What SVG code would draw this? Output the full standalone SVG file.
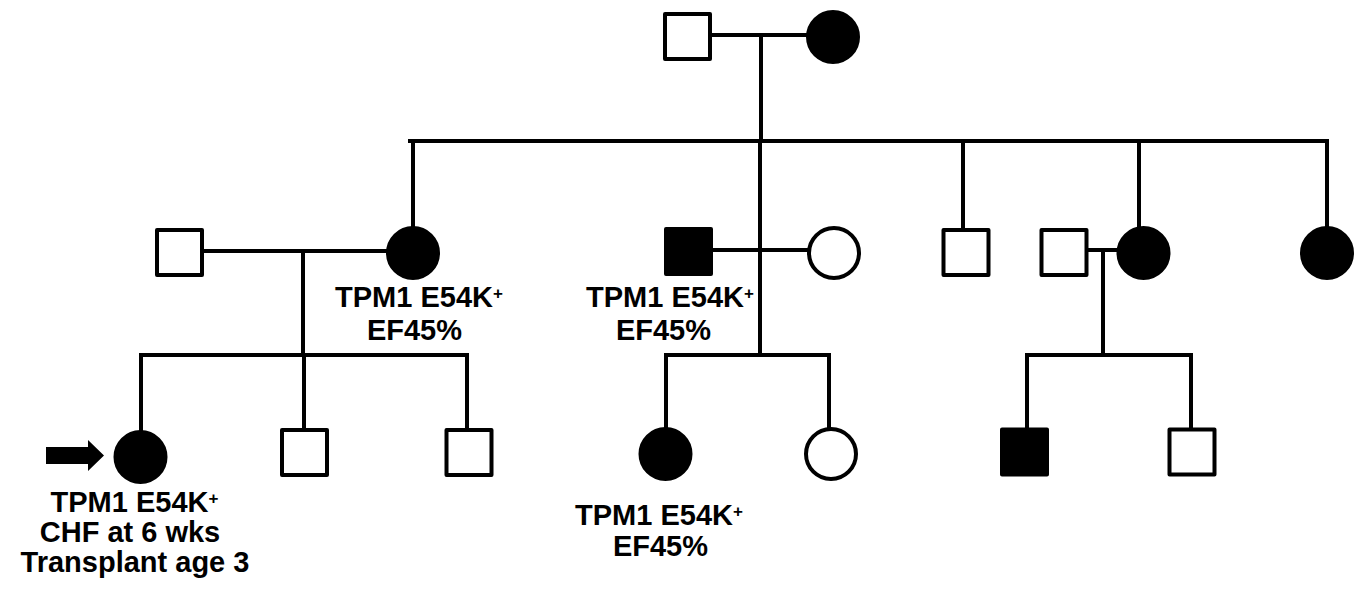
<svg xmlns="http://www.w3.org/2000/svg" width="1360" height="591" viewBox="0 0 1360 591">
<style>
.ln{stroke:#000;stroke-width:4;fill:none;stroke-linecap:square}
.open{fill:#fff;stroke:#000;stroke-width:4;stroke-linejoin:round}
.aff{fill:#000;stroke:#000;stroke-width:4;stroke-linejoin:round}
.lbl{font-family:"Liberation Sans",Arial,sans-serif;font-weight:bold;font-size:29px;fill:#000;text-anchor:middle}
.sup{font-size:17px}
</style>
<rect width="1360" height="591" fill="#fff"/>
<g id="connectors">
<path class="ln" d="M712,35H807M761,35V141M410,141H1327"/>
<path class="ln" d="M413,141V226M760,141V353M963,141V227M1139,141V227M1327,141V227"/>
<path class="ln" d="M204,251H386M303,251V355M714,250H808M1088,250H1117M1103,250V353"/>
<path class="ln" d="M141,355H467M141,355V430M304,355V428M467,355V428"/>
<path class="ln" d="M666,355H829M666,355V428M829,355V428"/>
<path class="ln" d="M1027,355H1191M1027,355V428M1191,355V428"/>
</g>
<g id="gen1-father"><rect class="open" x="665" y="14" width="45" height="45"/></g>
<g id="gen1-mother"><circle class="aff" cx="833" cy="37" r="25"/></g>
<g id="gen2-spouse1"><rect class="open" x="157" y="230" width="45" height="45"/></g>
<g id="gen2-daughter1"><circle class="aff" cx="413" cy="253" r="25"/>
<text class="lbl" x="419" y="307">TPM1 E54K<tspan class="sup" dy="-8">+</tspan></text>
<text class="lbl" x="414.5" y="340">EF45%</text></g>
<g id="gen2-son1"><rect class="aff" x="666" y="229" width="45" height="45"/>
<text class="lbl" x="670" y="307">TPM1 E54K<tspan class="sup" dy="-8">+</tspan></text>
<text class="lbl" x="663.5" y="340">EF45%</text></g>
<g id="gen2-spouse2"><circle class="open" cx="834" cy="253" r="25"/></g>
<g id="gen2-son2"><rect class="open" x="943.5" y="230" width="45" height="45"/></g>
<g id="gen2-spouse3"><rect class="open" x="1041.5" y="230" width="45" height="45"/></g>
<g id="gen2-daughter2"><circle class="aff" cx="1143.5" cy="253" r="25"/></g>
<g id="gen2-daughter3"><circle class="aff" cx="1327" cy="253" r="25"/></g>
<g id="proband"><circle class="aff" cx="140.5" cy="457" r="25"/>
<polygon points="46,447 88,447 88,440 104,455.5 88,471 88,464 46,464" fill="#000"/>
<text class="lbl" x="134.5" y="512">TPM1 E54K<tspan class="sup" dy="-8">+</tspan></text>
<text class="lbl" x="130" y="542">CHF at 6 wks</text>
<text class="lbl" x="135" y="572">Transplant age 3</text></g>
<g id="gen3-son1"><rect class="open" x="282" y="430" width="45" height="45"/></g>
<g id="gen3-son2"><rect class="open" x="446.5" y="430" width="45" height="45"/></g>
<g id="gen3-daughter1"><circle class="aff" cx="665.5" cy="454" r="25"/>
<text class="lbl" x="659" y="525">TPM1 E54K<tspan class="sup" dy="-8">+</tspan></text>
<text class="lbl" x="660.5" y="556">EF45%</text></g>
<g id="gen3-daughter2"><circle class="open" cx="831" cy="454" r="25"/></g>
<g id="gen3-son3"><rect class="aff" x="1002" y="429.5" width="45" height="45"/></g>
<g id="gen3-son4"><rect class="open" x="1169.5" y="429.5" width="45" height="45"/></g>
</svg>
